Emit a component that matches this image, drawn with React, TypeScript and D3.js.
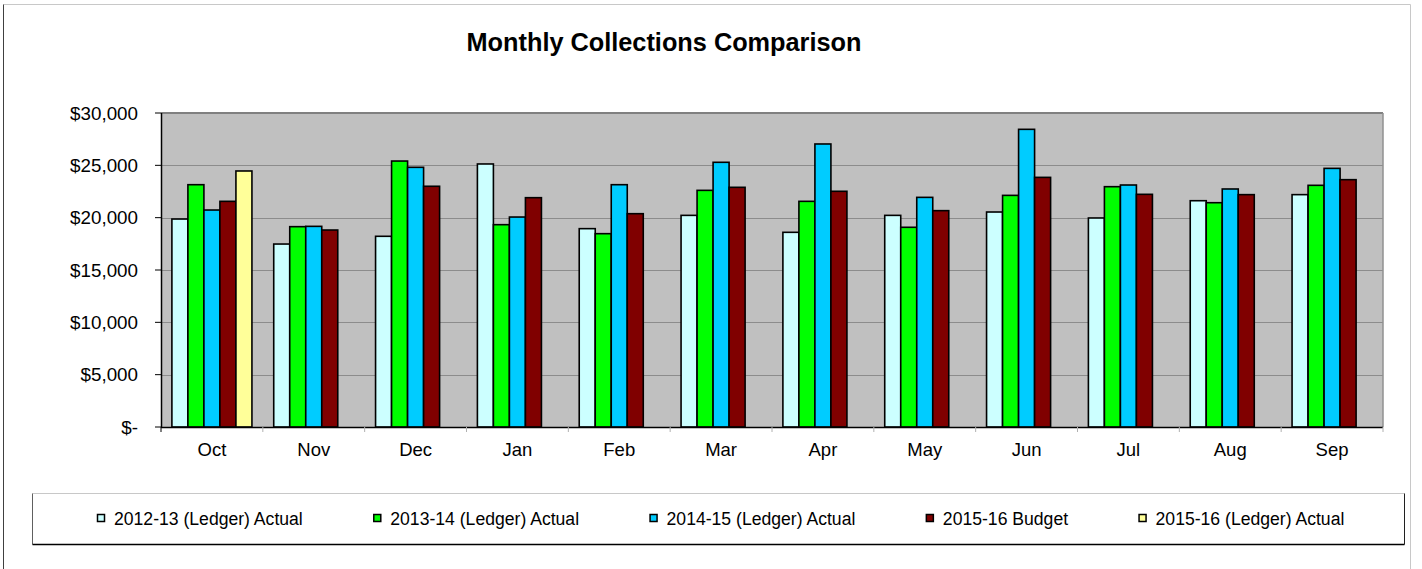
import React, {useRef, useEffect} from 'react';
import * as d3 from 'd3';

// chart data
const months = ['Oct', 'Nov', 'Dec', 'Jan', 'Feb', 'Mar', 'Apr', 'May', 'Jun', 'Jul', 'Aug', 'Sep'];
const seriesNames = [
    '2012-13 (Ledger) Actual',
    '2013-14 (Ledger) Actual',
    '2014-15 (Ledger) Actual',
    '2015-16 Budget',
    '2015-16 (Ledger) Actual'
];
const seriesColors = ['#CCFFFF', '#00FF00', '#00CCFF', '#800000', '#FFFF99'];
const ledger1213 = [19870, 17480, 18220, 25130, 18950, 20220, 18600, 20220, 20540, 19970, 21620, 22200];
const ledger1314 = [23150, 19140, 25410, 19330, 18470, 22610, 21560, 19080, 22130, 22960, 21430, 23090];
const ledger1415 = [20730, 19170, 24810, 20060, 23150, 25290, 27040, 21940, 28440, 23120, 22740, 24710];
const budget1516 = [21560, 18820, 23000, 21910, 20380, 22900, 22520, 20670, 23850, 22230, 22200, 23630];
const ledger1516 = [24460, null, null, null, null, null, null, null, null, null, null, null];
const yTicks = [0, 5000, 10000, 15000, 20000, 25000, 30000];

const FONT = '"Liberation Sans", Arial, sans-serif';

const App = () => {
    const ref = useRef<SVGSVGElement>(null);

    useEffect(() => {
        document.body.style.margin = '0';
        const svg = d3.select(ref.current);
        svg.selectAll('*').remove();

        const W = 1422, H = 569;
        const plot = {left: 161, right: 1383, top: 113, bottom: 427};

        // outer chart frame
        svg.append('rect').attr('x', 0).attr('y', 0).attr('width', W).attr('height', H).attr('fill', '#fff');
        svg.append('line').attr('x1', 3.5).attr('x2', 1410.5).attr('y1', 4.5).attr('y2', 4.5).attr('stroke', '#c8c8c8');
        svg.append('line').attr('x1', 1410.5).attr('x2', 1410.5).attr('y1', 4.5).attr('y2', H).attr('stroke', '#c8c8c8');
        svg.append('line').attr('x1', 3.5).attr('x2', 3.5).attr('y1', 4.5).attr('y2', H).attr('stroke', '#404040');

        // title
        svg.append('text')
            .attr('x', 664).attr('y', 51)
            .attr('text-anchor', 'middle')
            .style('font-family', FONT).style('font-size', '25.3px').style('font-weight', 'bold')
            .text('Monthly Collections Comparison');

        const x = d3.scaleBand<string>()
            .domain(months)
            .range([plot.left, plot.right])
            .paddingInner(0.214)
            .paddingOuter(0.107);
        const xs = d3.scaleBand<number>()
            .domain(d3.range(seriesNames.length))
            .range([0, x.bandwidth()]);
        const y = d3.scaleLinear().domain([0, 30000]).range([plot.bottom, plot.top]);

        // plot background
        svg.append('rect')
            .attr('x', plot.left).attr('y', plot.top)
            .attr('width', plot.right - plot.left).attr('height', plot.bottom - plot.top)
            .attr('fill', '#C0C0C0');

        // gridlines
        svg.append('g').selectAll('line')
            .data(yTicks.filter(t => t > 0 && t < 30000))
            .enter().append('line')
            .attr('x1', plot.left).attr('x2', plot.right)
            .attr('y1', d => Math.round(y(d)) + 0.5).attr('y2', d => Math.round(y(d)) + 0.5)
            .attr('stroke', '#8c8c8c');

        svg.append('line')
            .attr('x1', plot.left).attr('x2', plot.right)
            .attr('y1', plot.top).attr('y2', plot.top)
            .attr('stroke', '#808080').attr('stroke-width', 2);
        svg.append('line')
            .attr('x1', plot.right).attr('x2', plot.right)
            .attr('y1', plot.top).attr('y2', plot.bottom)
            .attr('stroke', '#909090').attr('stroke-width', 1.5);

        // bars
        const allSeries = [ledger1213, ledger1314, ledger1415, budget1516, ledger1516];
        const groups = svg.append('g').selectAll('g')
            .data(months)
            .enter().append('g')
            .attr('transform', d => 'translate(' + x(d) + ',0)');
        groups.selectAll('rect')
            .data((m, i) => allSeries.map((s, k) => ({k: k, v: s[i]})).filter(d => d.v != null))
            .enter().append('rect')
            .attr('x', d => xs(d.k))
            .attr('y', d => y(d.v))
            .attr('width', xs.bandwidth())
            .attr('height', d => y(0) - y(d.v))
            .attr('fill', d => seriesColors[d.k])
            .attr('stroke', '#000')
            .attr('stroke-width', 1.6);

        // x axis
        svg.append('line')
            .attr('x1', plot.left).attr('x2', plot.right)
            .attr('y1', plot.bottom + 0.5).attr('y2', plot.bottom + 0.5)
            .attr('stroke', '#000').attr('stroke-width', 1.5);
        const step = x.step();
        svg.append('g').selectAll('line')
            .data(d3.range(months.length + 1))
            .enter().append('line')
            .attr('x1', i => plot.left + i * step).attr('x2', i => plot.left + i * step)
            .attr('y1', plot.bottom).attr('y2', plot.bottom + 5)
            .attr('stroke', i => i === 0 ? '#000' : '#b0b0b0');
        svg.append('g').selectAll('text')
            .data(months)
            .enter().append('text')
            .attr('x', d => x(d) + x.bandwidth() / 2)
            .attr('y', 456)
            .attr('text-anchor', 'middle')
            .style('font-family', FONT).style('font-size', '18.5px')
            .text(d => d);

        // y axis
        svg.append('line')
            .attr('x1', plot.left + 0.5).attr('x2', plot.left + 0.5)
            .attr('y1', plot.top).attr('y2', plot.bottom)
            .attr('stroke', '#000').attr('stroke-width', 1.5);
        const fmt = d3.format(',');
        const yAxis = svg.append('g').selectAll('g')
            .data(yTicks)
            .enter().append('g');
        yAxis.append('line')
            .attr('x1', plot.left - 6).attr('x2', plot.left)
            .attr('y1', d => y(d)).attr('y2', d => y(d))
            .attr('stroke', '#000');
        yAxis.append('text')
            .attr('x', 138)
            .attr('y', d => y(d) + 6.5)
            .attr('text-anchor', 'end')
            .style('font-family', FONT).style('font-size', '18.8px')
            .text(d => d === 0 ? '$-' : '$' + fmt(d));

        // legend
        const lg = {left: 32.5, top: 493.5, right: 1404.5, bottom: 544.5};
        svg.append('rect')
            .attr('x', lg.left).attr('y', lg.top)
            .attr('width', lg.right - lg.left).attr('height', lg.bottom - lg.top)
            .attr('fill', '#fff').attr('stroke', 'none');
        svg.append('line').attr('x1', lg.left).attr('x2', lg.right).attr('y1', lg.top).attr('y2', lg.top).attr('stroke', '#c8c8c8');
        svg.append('line').attr('x1', lg.left).attr('x2', lg.left).attr('y1', lg.top).attr('y2', lg.bottom).attr('stroke', '#606060');
        svg.append('line').attr('x1', lg.right).attr('x2', lg.right).attr('y1', lg.top).attr('y2', lg.bottom).attr('stroke', '#202020');
        svg.append('line').attr('x1', lg.left).attr('x2', lg.right).attr('y1', lg.bottom).attr('y2', lg.bottom).attr('stroke', '#000').attr('stroke-width', 1.5);

        let cx = 97;
        seriesNames.forEach((name, k) => {
            svg.append('rect')
                .attr('x', cx + 0.5).attr('y', 514.5)
                .attr('width', 7).attr('height', 7)
                .attr('fill', seriesColors[k])
                .attr('stroke', '#000').attr('stroke-width', 1.5);
            const t = svg.append('text')
                .attr('x', cx + 17).attr('y', 525)
                .style('font-family', FONT).style('font-size', '17.6px')
                .text(name);
            const w = (t.node() as SVGTextElement).getComputedTextLength();
            cx = cx + 17 + w + 70.5;
        });
    }, []);

    return (
        <div>
            <svg ref={ref} width={1422} height={569}
                 style={{position: 'absolute', left: 0, top: 0, display: 'block'}}/>
        </div>
    );
};

export default App;
